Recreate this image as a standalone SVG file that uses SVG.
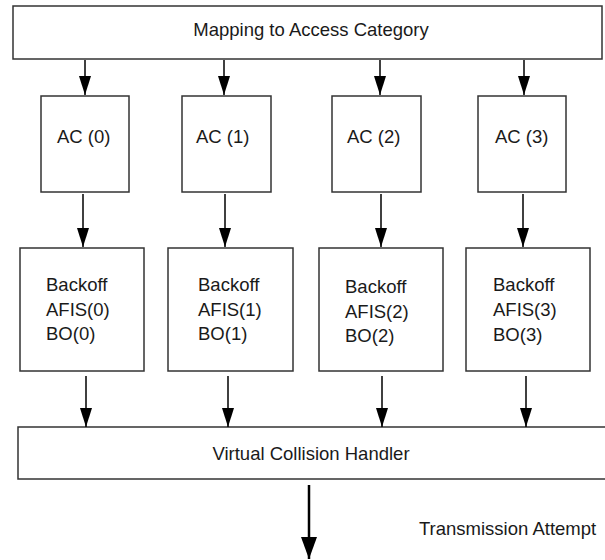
<svg xmlns="http://www.w3.org/2000/svg" width="605" height="560" viewBox="0 0 605 560">
  <style>
    .box { fill: #ffffff; stroke: #333333; stroke-width: 1.5; }
    .lbl { font-family: "Liberation Sans", Arial, sans-serif; font-size: 18.5px; fill: #1a1a1a; }
    .mid { text-anchor: middle; }
    .wire { stroke: #000000; stroke-width: 1.5; fill: none; }
    .wire-main { stroke: #000000; stroke-width: 2.5; fill: none; }
  </style>
  <defs>
    <marker id="head" markerUnits="userSpaceOnUse" markerWidth="19" markerHeight="12" refX="19" refY="6" orient="auto">
      <path d="M0,0 L19,6 L0,12 Z" fill="#000000"/>
    </marker>
    <marker id="head-main" markerUnits="userSpaceOnUse" markerWidth="22" markerHeight="16" refX="22" refY="8" orient="auto">
      <path d="M0,0 L22,8 L0,16 Z" fill="#000000"/>
    </marker>
  </defs>
  <rect width="605" height="560" fill="#ffffff"/>

  <!-- mapping stage -->
  <g id="mapping">
    <rect class="box" x="13" y="6" width="589" height="53"/>
    <text class="lbl mid" x="311" y="36">Mapping to Access Category</text>
  </g>

  <!-- access category queues -->
  <g id="ac0">
    <rect class="box" x="41" y="96" width="88" height="96"/>
    <text class="lbl" x="57" y="143">AC (0)</text>
  </g>
  <g id="ac1">
    <rect class="box" x="182" y="96" width="89" height="96"/>
    <text class="lbl" x="196" y="143">AC (1)</text>
  </g>
  <g id="ac2">
    <rect class="box" x="332" y="96" width="89" height="96"/>
    <text class="lbl" x="347" y="143">AC (2)</text>
  </g>
  <g id="ac3">
    <rect class="box" x="478" y="96" width="88" height="96"/>
    <text class="lbl" x="495" y="143">AC (3)</text>
  </g>

  <!-- backoff entities -->
  <g id="backoff0">
    <rect class="box" x="20" y="248" width="124" height="123"/>
    <text class="lbl" x="46" y="291">Backoff</text>
    <text class="lbl" x="46" y="316">AFIS(0)</text>
    <text class="lbl" x="46" y="340">BO(0)</text>
  </g>
  <g id="backoff1">
    <rect class="box" x="168" y="248" width="125" height="123"/>
    <text class="lbl" x="198" y="291">Backoff</text>
    <text class="lbl" x="198" y="316">AFIS(1)</text>
    <text class="lbl" x="198" y="340">BO(1)</text>
  </g>
  <g id="backoff2">
    <rect class="box" x="319" y="248" width="124" height="123"/>
    <text class="lbl" x="345" y="293">Backoff</text>
    <text class="lbl" x="345" y="318">AFIS(2)</text>
    <text class="lbl" x="345" y="342">BO(2)</text>
  </g>
  <g id="backoff3">
    <rect class="box" x="466" y="248" width="124" height="123"/>
    <text class="lbl" x="493" y="291">Backoff</text>
    <text class="lbl" x="493" y="316">AFIS(3)</text>
    <text class="lbl" x="493" y="341">BO(3)</text>
  </g>

  <!-- collision handler -->
  <g id="vch">
    <rect class="box" x="18" y="427" width="600" height="52"/>
    <text class="lbl mid" x="311" y="460">Virtual Collision Handler</text>
  </g>

  <!-- output label -->
  <g id="tx-label">
    <text class="lbl" x="419" y="535">Transmission Attempt</text>
  </g>

  <!-- connectors -->
  <g id="connectors">
    <line class="wire" x1="85" y1="60" x2="85" y2="95" marker-end="url(#head)"/>
    <line class="wire" x1="224" y1="60" x2="224" y2="95" marker-end="url(#head)"/>
    <line class="wire" x1="380" y1="60" x2="380" y2="95" marker-end="url(#head)"/>
    <line class="wire" x1="524" y1="60" x2="524" y2="95" marker-end="url(#head)"/>

    <line class="wire" x1="83" y1="194" x2="83" y2="247" marker-end="url(#head)"/>
    <line class="wire" x1="225" y1="194" x2="225" y2="247" marker-end="url(#head)"/>
    <line class="wire" x1="381" y1="194" x2="381" y2="247" marker-end="url(#head)"/>
    <line class="wire" x1="523" y1="194" x2="523" y2="247" marker-end="url(#head)"/>

    <line class="wire" x1="86" y1="376" x2="86" y2="427" marker-end="url(#head)"/>
    <line class="wire" x1="228" y1="376" x2="228" y2="427" marker-end="url(#head)"/>
    <line class="wire" x1="382" y1="376" x2="382" y2="427" marker-end="url(#head)"/>
    <line class="wire" x1="526" y1="376" x2="526" y2="427" marker-end="url(#head)"/>

    <line class="wire-main" x1="309" y1="485" x2="309" y2="559" marker-end="url(#head-main)"/>
  </g>
</svg>
